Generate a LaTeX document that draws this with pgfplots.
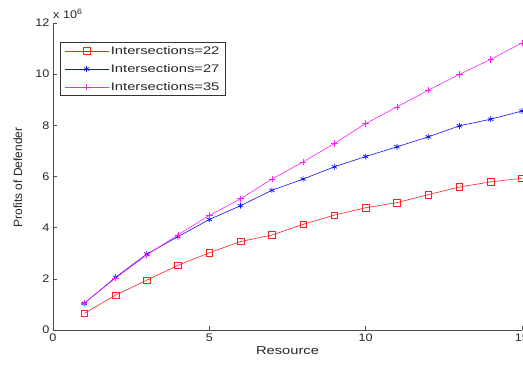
\documentclass[border=0pt]{standalone}
\usepackage{pgfplots}
\pgfplotsset{compat=1.18}
\usepackage{fontspec}
\setmainfont{Liberation Sans}
\newfontfamily\widefont[FakeStretch=1.28]{Liberation Sans}
\newfontfamily\legfont[FakeStretch=1.34]{Liberation Sans}
\newfontfamily\tickfont[FakeStretch=1.15]{Liberation Sans}
\definecolor{mred}{RGB}{255,30,30}
\definecolor{mblue}{RGB}{15,15,255}
\definecolor{mmag}{RGB}{255,30,255}
\begin{document}
\begin{tikzpicture}[x=1pt,y=1pt]
\clip (-53,-35) rectangle (470,330);
\begin{axis}[
  name=ax,
  at={(0,0)}, anchor=south west,
  scale only axis, width=469pt, height=307pt,
  xmin=0, xmax=15, ymin=0, ymax=12,
  xtick={0,5,10,15}, ytick={0,2,4,6,8,10,12},
  axis lines=left,
  axis line style={-, draw=black!70, line width=0.6pt},
  tick align=inside,
  major tick length=4pt,
  tick style={draw=black!70, line width=0.5pt},
  ticklabel style={font=\tickfont\fontsize{11}{13}\selectfont, text=black!85},
  /pgf/number format/assume math mode=true,
  xlabel={Resource},
  ylabel={Profits of Defender},
  xlabel style={font=\widefont\fontsize{11.5}{13}\selectfont, text=black!85, yshift=2pt},
  ylabel style={font=\fontsize{12}{14}\selectfont, text=black!85, at={(axis description cs:-0.075,0.497)}, anchor=center},
  legend style={at={(axis description cs:0.0149,0.938)}, anchor=north west,
    font=\legfont\fontsize{11}{13}\selectfont, draw=black!80, line width=0.6pt,
    inner xsep=4pt, inner ysep=2pt, row sep=4.5pt, text=black!85},
  legend cell align=left,
  legend image code/.code={%
    \draw[mark repeat=2,mark phase=2,line width=0.6pt] plot coordinates {(0pt,0pt) (22pt,0pt) (44pt,0pt)};},
  every axis plot/.append style={line width=0.6pt},
]
\addplot[mred, mark=square, mark size=3.3pt, mark options={line width=0.6pt}] coordinates {
(1,0.65) (2,1.36) (3,1.95) (4,2.53) (5,3.02) (6,3.46) (7,3.71) (8,4.13) (9,4.49) (10,4.78) (11,4.98) (12,5.29) (13,5.59) (14,5.79) (15,5.93)};
\addlegendentry{Intersections=22}
\addplot[mblue, mark=asterisk, mark size=3pt, mark options={line width=0.7pt}] coordinates {
(1,1.04) (2,2.06) (3,2.97) (4,3.65) (5,4.32) (6,4.86) (7,5.46) (8,5.90) (9,6.38) (10,6.78) (11,7.16) (12,7.55) (13,7.98) (14,8.24) (15,8.56)};
\addlegendentry{Intersections=27}
\addplot[mmag, mark=+, mark size=3.2pt, mark options={line width=0.6pt}] coordinates {
(1,1.05) (2,2.03) (3,2.93) (4,3.72) (5,4.48) (6,5.13) (7,5.90) (8,6.57) (9,7.29) (10,8.07) (11,8.72) (12,9.37) (13,9.99) (14,10.58) (15,11.22)};
\addlegendentry{Intersections=35}
\end{axis}
\node[anchor=base west, font=\tickfont\fontsize{11}{13}\selectfont, text=black!85, inner sep=0pt] at ([yshift=5pt]ax.north west) {x 10\textsuperscript{6}};
\end{tikzpicture}
\end{document}
